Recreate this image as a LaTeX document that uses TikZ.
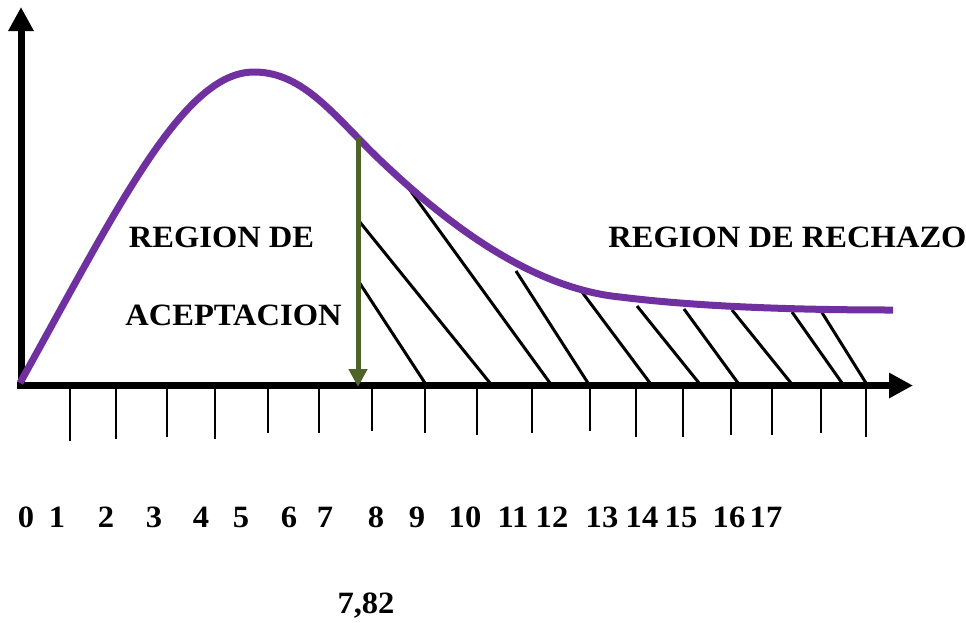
\documentclass[tikz,border=0pt]{standalone}
\usepackage{fontspec}
\setmainfont{Liberation Serif}
\usetikzlibrary{arrows.meta}
\definecolor{curvepurple}{HTML}{7030A0}
\definecolor{arrowgreen}{HTML}{4F6228}
\tikzset{
  axisline/.style={line width=7pt, -{Triangle[length=24pt,width=24pt]}},
  tickline/.style={line width=1.8pt},
  hatchline/.style={line width=3pt},
  densitycurve/.style={line width=7pt, curvepurple},
  critarrow/.style={line width=5pt, arrowgreen, -{Triangle[length=18pt,width=18pt]}},
  lbl/.style={inner sep=0pt, anchor=base, font=\fontsize{31}{32}\selectfont\bfseries}
}
\newcommand{\wide}[1]{\scalebox{1.05}[1]{#1}}
\begin{document}
\begin{tikzpicture}[x=1pt,y=-1pt]
\useasboundingbox (0,0) rectangle (966,622);
% axes
\coordinate (o) at (21,385.5);
\coordinate (ytip) at (21,7);
\coordinate (xtip) at (913,385.5);
\draw[axisline] (21,389) -- (ytip);
\draw[axisline] (17,385.5) -- (xtip);
% ticks
\foreach \x/\b in {70/441,116/439,167/437,215/439,268/433,319/433,372/431,425/433,477/435,532/433,590/431,636/437,683/437,731/435,772/435,821/433,866/437}
  \draw[tickline] (\x,389) -- (\x,\b);
% hatch
\foreach \xa/\ya/\xb/\yb in {359/282/425/383, 359/221/490/383, 407/186/550/383, 516/271/588/383, 582/292/650/383, 637/306/699/383, 684/309/738/383, 732/310/791/383, 792/312/842/383, 821/311/866/383}
  \draw[hatchline] (\xa,\ya) -- (\xb,\yb);
% density curve
\coordinate (c0) at (20,383);
\coordinate (c1) at (254,72);
\coordinate (c2) at (380,160);
\coordinate (c3) at (620,297);
\coordinate (c4) at (893,310);
\draw[densitycurve] (c0) .. controls (120,203) and (184,72) .. (c1)
  .. controls (304,72) and (335,117) .. (c2)
  .. controls (445,222) and (530,288) .. (c3)
  .. controls (700,307) and (800,310) .. (c4);
% critical value arrow
\coordinate (cv) at (358,137);
\coordinate (cvb) at (358,387);
\draw[critarrow] (cv) -- (cvb);
% labels
\node[lbl] (acc1) at (221.5,247) {\wide{REGION DE}};
\node[lbl] (acc2) at (233.5,325) {\wide{ACEPTACION}};
\node[lbl] (rej) at (787.5,247) {\wide{REGION DE RECHAZO}};
\foreach \x/\t [count=\i] in {26/0,57/1,106/2,154/3,201/4,241/5,289/6,325/7,376/8,417/9,465/10,513/11,552/12,602/13,642/14,681/15,729/16,766/17}
  \node[lbl] (n\i) at (\x,527) {\wide{\t}};
\node[lbl] (crit) at (366,613) {\wide{7,82}};
\end{tikzpicture}
\end{document}
